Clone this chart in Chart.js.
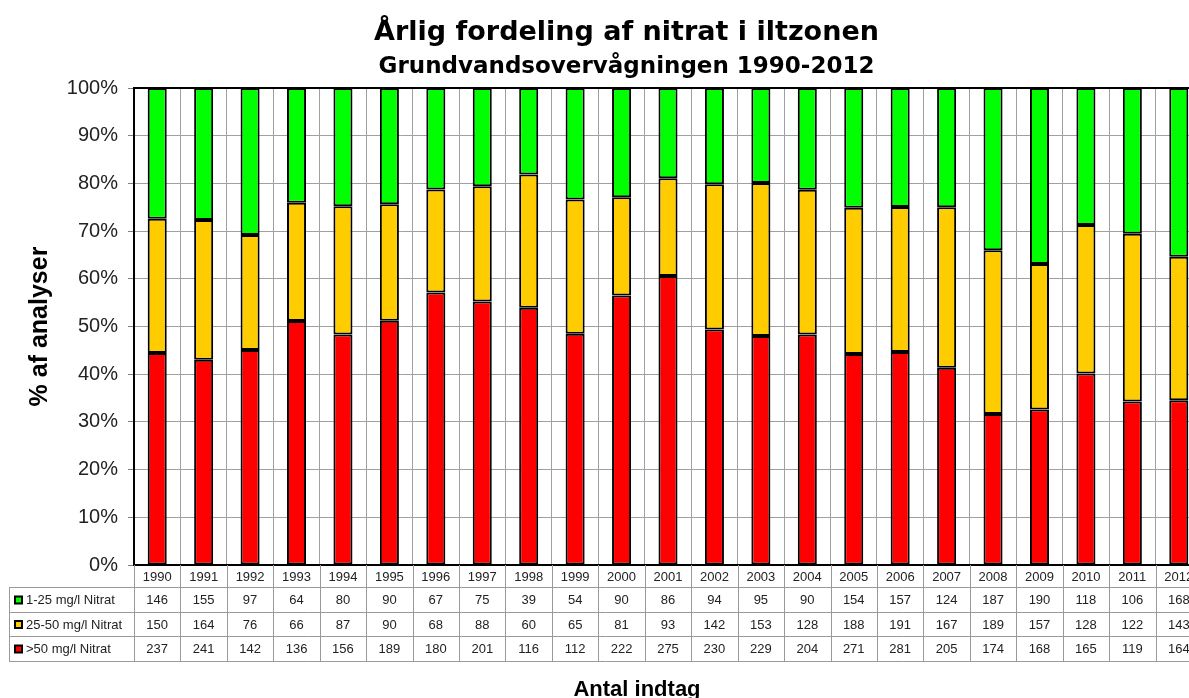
<!DOCTYPE html>
<html>
<head>
<meta charset="utf-8">
<script src="https://cdn.jsdelivr.net/npm/chart.js@4.4.1/dist/chart.umd.min.js"></script>
<style>
  html, body { margin: 0; padding: 0; background: #fff; overflow: hidden; }
  #wrap { width: 1253px; height: 698px; }
</style>
</head>
<body>
<div id="wrap"><canvas id="c" width="1253" height="698"></canvas></div>
<script>
const years = ['1990','1991','1992','1993','1994','1995','1996','1997','1998','1999','2000','2001','2002','2003','2004','2005','2006','2007','2008','2009','2010','2011','2012'];
const countLow  = [146,155,97,64,80,90,67,75,39,54,90,86,94,95,90,154,157,124,187,190,118,106,168];
const countMid  = [150,164,76,66,87,90,68,88,60,65,81,93,142,153,128,188,191,167,189,157,128,122,143];
const countHigh = [237,241,142,136,156,189,180,201,116,112,222,275,230,229,204,271,281,205,174,168,165,119,164];
const seriesNames = ['1-25 mg/l Nitrat', '25-50 mg/l Nitrat', '>50 mg/l Nitrat'];
const yTickValues = [0,10,20,30,40,50,60,70,80,90,100];

const totals = years.map((_, i) => countLow[i] + countMid[i] + countHigh[i]);
const pct = arr => arr.map((v, i) => v / totals[i] * 100);

const colors = { low: '#00FF00', mid: '#FFCC00', high: '#FF0000' };
const FONT = '"Liberation Sans", Arial, sans-serif';
const TFONT = '"DejaVu Sans", "Liberation Sans", sans-serif';

const tablePlugin = {
  id: 'dataTable',
  afterDraw(chart) {
    const ctx = chart.ctx;
    const ca = chart.chartArea;
    const xs = chart.scales.x;
    const half = (xs.getPixelForValue(1) - xs.getPixelForValue(0)) / 2;
    const top = ca.bottom;
    const rowTops = [top, top + 22, top + 47, top + 71, top + 96];
    const legLeft = 9;
    ctx.save();
    ctx.strokeStyle = '#000';
    ctx.lineWidth = 2;
    ctx.strokeRect(ca.left, ca.top, ca.right - ca.left, ca.bottom - ca.top);
    ctx.strokeStyle = '#9a9a9a';
    ctx.lineWidth = 1;
    ctx.beginPath();
    for (let r = 1; r < rowTops.length; r++) {
      ctx.moveTo(legLeft, rowTops[r] + 0.5);
      ctx.lineTo(ca.right, rowTops[r] + 0.5);
    }
    for (let i = 0; i <= years.length; i++) {
      const x = Math.round(xs.getPixelForValue(0) - half + i * 2 * half) + 0.5;
      ctx.moveTo(x, top);
      ctx.lineTo(x, rowTops[4]);
    }
    ctx.moveTo(legLeft + 0.5, rowTops[1]);
    ctx.lineTo(legLeft + 0.5, rowTops[4]);
    ctx.stroke();
    ctx.fillStyle = '#222';
    ctx.font = '13px ' + FONT;
    ctx.textAlign = 'center';
    ctx.textBaseline = 'middle';
    const rows = [years, countLow, countMid, countHigh];
    rows.forEach((arr, r) => {
      const cy = (rowTops[r] + rowTops[r + 1]) / 2 + 1;
      arr.forEach((v, i) => {
        ctx.fillText(String(v), xs.getPixelForValue(i), cy);
      });
    });
    const keyCols = [colors.low, colors.mid, colors.high];
    ctx.textAlign = 'left';
    for (let r = 0; r < 3; r++) {
      const cy = (rowTops[r + 1] + rowTops[r + 2]) / 2;
      ctx.fillStyle = '#000';
      ctx.fillRect(14, cy - 4, 9, 9);
      ctx.fillStyle = keyCols[r];
      ctx.fillRect(16, cy - 2, 5, 5);
      ctx.fillStyle = '#222';
      ctx.fillText(seriesNames[r], 26, cy + 1);
    }
    ctx.fillStyle = '#000';
    ctx.font = 'bold 22px ' + FONT;
    ctx.textAlign = 'center';
    ctx.textBaseline = 'alphabetic';
    ctx.fillText('Antal indtag', 637, 696);
    ctx.restore();
  }
};

const barCommon = { borderColor: '#000', borderWidth: 2, borderSkipped: false, barPercentage: 0.41, categoryPercentage: 1.0 };

new Chart(document.getElementById('c'), {
  type: 'bar',
  data: {
    labels: years,
    datasets: [
      Object.assign({ label: seriesNames[2], data: pct(countHigh), backgroundColor: colors.high }, barCommon),
      Object.assign({ label: seriesNames[1], data: pct(countMid), backgroundColor: colors.mid }, barCommon),
      Object.assign({ label: seriesNames[0], data: pct(countLow), backgroundColor: colors.low }, barCommon)
    ]
  },
  options: {
    responsive: false,
    devicePixelRatio: 1,
    animation: false,
    layout: { padding: { left: 0, right: 0, top: 0, bottom: 133 } },
    plugins: {
      legend: { display: false },
      tooltip: { enabled: false },
      title: {
        display: true,
        text: 'Årlig fordeling af nitrat i iltzonen',
        color: '#000',
        font: { family: TFONT, size: 27, weight: 'bold' },
        padding: { top: 17, bottom: 4 }
      },
      subtitle: {
        display: true,
        text: 'Grundvandsovervågningen 1990-2012',
        color: '#000',
        font: { family: TFONT, size: 23, weight: 'bold' },
        padding: { top: 0, bottom: 7 }
      }
    },
    scales: {
      x: {
        stacked: true,
        grid: { display: true, offset: true, color: '#a0a0a0', lineWidth: 1, drawTicks: false },
        border: { display: true, color: '#000', width: 2 },
        ticks: { display: false }
      },
      y: {
        stacked: true,
        min: 0,
        max: 100,
        afterBuildTicks(scale) { scale.ticks = yTickValues.map(v => ({ value: v })); },
        afterFit(scale) { scale.width = 134; },
        grid: { color: '#a0a0a0', lineWidth: 1, drawTicks: true, tickLength: 6, tickColor: '#808080' },
        border: { display: true, color: '#000', width: 2 },
        ticks: {
          color: '#222',
          padding: 10,
          font: { family: FONT, size: 20 },
          callback: v => v + '%'
        },
        title: {
          display: true,
          text: '% af analyser',
          color: '#000',
          font: { family: FONT, size: 25, weight: 'bold' },
          padding: { top: 25, bottom: 0 }
        }
      },
      yRight: {
        type: 'linear',
        position: 'right',
        display: true,
        min: 0,
        max: 100,
        grid: { display: false, drawTicks: false },
        border: { display: false },
        ticks: { display: false },
        afterFit(scale) { scale.width = 51; }
      }
    }
  },
  plugins: [tablePlugin]
});
</script>
</body>
</html>
